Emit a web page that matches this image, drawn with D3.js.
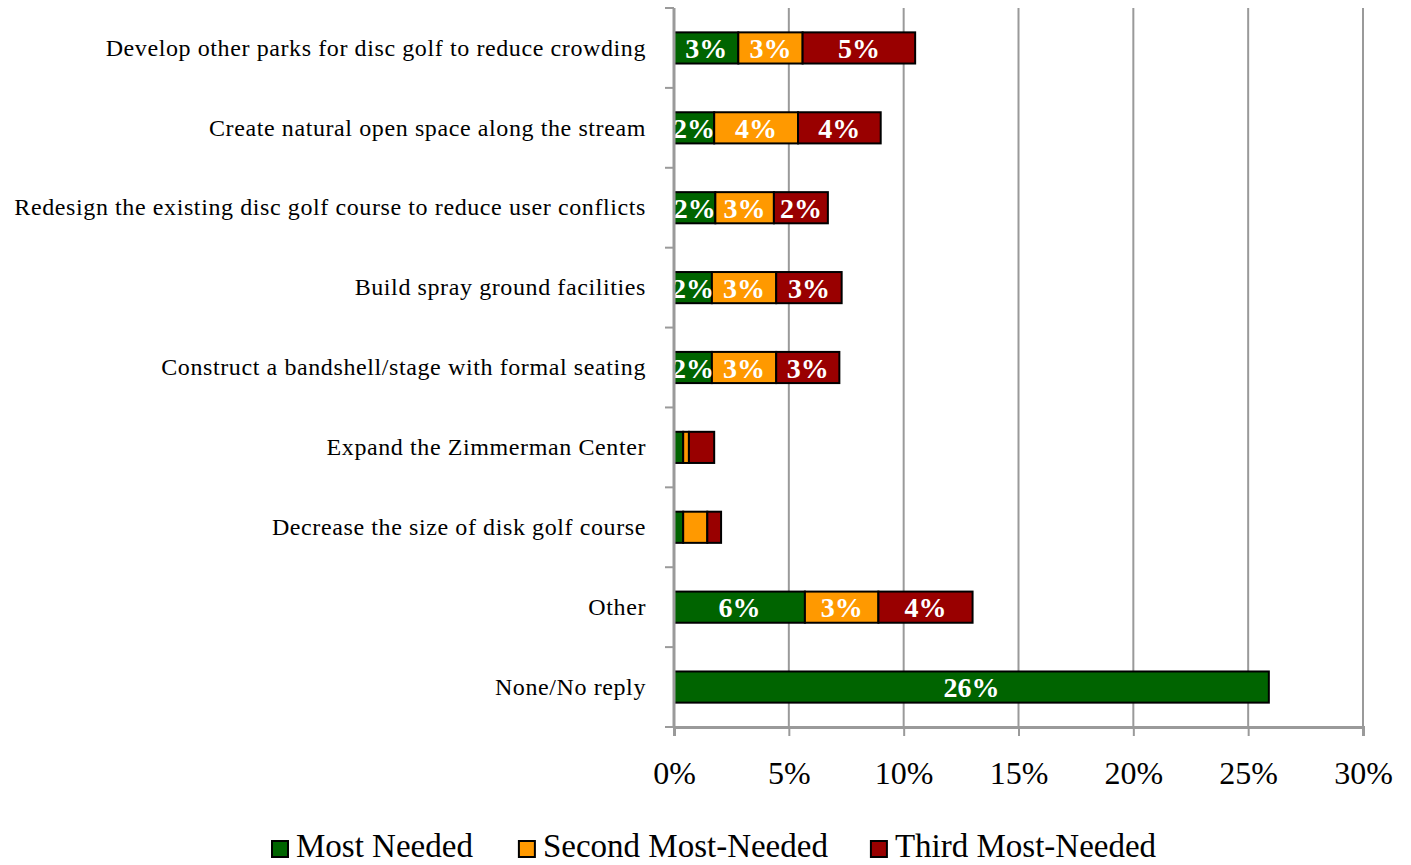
<!DOCTYPE html>
<html>
<head>
<meta charset="utf-8">
<script src="https://cdn.jsdelivr.net/npm/d3@7"></script>
<style>
  body { margin: 0; background: #fff; }
  #chart { width: 1411px; height: 865px; }
  text { font-family: "Liberation Serif", "DejaVu Serif", serif; }
</style>
</head>
<body>
<div id="chart"></div>
<script>
var categories = [
    "Develop other parks for disc golf to reduce crowding",
    "Create natural open space along the stream",
    "Redesign the existing disc golf course to reduce user conflicts",
    "Build spray ground facilities",
    "Construct a bandshell/stage with formal seating",
    "Expand the Zimmerman Center",
    "Decrease the size of disk golf course",
    "Other",
    "None/No reply"
];
var seriesNames = ["Most Needed", "Second Most-Needed", "Third Most-Needed"];
var mostNeeded   = [2.8, 1.75, 1.8, 1.65, 1.65, 0.4, 0.4, 5.7, 25.9];
var secondNeeded = [2.8, 3.65, 2.55, 2.8, 2.8, 0.25, 1.05, 3.2, 0];
var thirdNeeded  = [4.9, 3.6, 2.35, 2.85, 2.75, 1.1, 0.6, 4.1, 0];
var xTicks = [0, 5, 10, 15, 20, 25, 30];
var colours = ["#006400", "#FF9900", "#990000"];

var width = 1411, height = 865;
var margin = { top: 8, bottom: 138, left: 674, right: 48 };

var svg = d3.select('#chart')
    .append('svg')
    .attr('width', width)
    .attr('height', height);

var w = width - margin.left - margin.right;
var h = height - margin.top - margin.bottom;

var g = svg.append('g')
    .attr('transform', 'translate(' + margin.left + ',' + margin.top + ')');

var x_scale = d3.scaleLinear().domain([0, 30]).range([0, w]);
var y_scale = d3.scaleBand().domain(categories).range([0, h]).paddingInner(0.61).paddingOuter(0.305);

// gridlines
g.selectAll('.grid')
    .data(xTicks.slice(1))
    .enter()
    .append('line')
    .attr('x1', function (d) { return x_scale(d); })
    .attr('x2', function (d) { return x_scale(d); })
    .attr('y1', 0)
    .attr('y2', h)
    .attr('stroke', '#9a9a9a')
    .attr('stroke-width', 2);

// stacked data
var rows = categories.map(function (c, i) {
    return { cat: c, v: [mostNeeded[i], secondNeeded[i], thirdNeeded[i]] };
});
var segs = [];
rows.forEach(function (r) {
    var x0 = 0;
    r.v.forEach(function (v, k) {
        if (v > 0) segs.push({ cat: r.cat, k: k, x0: x0, x1: x0 + v, v: v });
        x0 += v;
    });
});

g.selectAll('.bar')
    .data(segs)
    .enter()
    .append('rect')
    .attr('class', 'bar')
    .attr('x', function (d) { return x_scale(d.x0); })
    .attr('width', function (d) { return x_scale(d.x1) - x_scale(d.x0); })
    .attr('y', function (d) { return y_scale(d.cat); })
    .attr('height', y_scale.bandwidth())
    .attr('fill', function (d) { return colours[d.k]; })
    .attr('stroke', '#000')
    .attr('stroke-width', 2);

var fmt = d3.format('.0%');
g.selectAll('.blabel')
    .data(segs.filter(function (d) { return d.v >= 1.5; }))
    .enter()
    .append('text')
    .attr('x', function (d) { return x_scale((d.x0 + d.x1) / 2); })
    .attr('y', function (d) { return y_scale(d.cat) + y_scale.bandwidth() / 2 + 10; })
    .attr('text-anchor', 'middle')
    .attr('fill', '#fff')
    .attr('font-weight', 'bold')
    .attr('font-size', '28px')
    .text(function (d) { return fmt(d.v / 100); });

// y axis
var y_axis = d3.axisLeft(y_scale).tickSize(0).tickPadding(28);
var yAxis = g.append('g').attr('class', 'y axis').call(y_axis);
yAxis.select('.domain').remove();
yAxis.selectAll('text')
    .attr('font-size', '24px')
    .attr('letter-spacing', '0.6px')
    .attr('fill', '#000');

var boundaries = d3.range(categories.length + 1).map(function (i) { return i * h / categories.length; });
g.selectAll('.ytick')
    .data(boundaries)
    .enter()
    .append('line')
    .attr('x1', -9).attr('x2', 0)
    .attr('y1', function (d) { return d; })
    .attr('y2', function (d) { return d; })
    .attr('stroke', '#9a9a9a')
    .attr('stroke-width', 2);
g.append('line')
    .attr('x1', 0).attr('x2', 0).attr('y1', 0).attr('y2', h)
    .attr('stroke', '#9a9a9a').attr('stroke-width', 3);

// x axis
var x_axis = d3.axisBottom(x_scale)
    .tickValues(xTicks)
    .tickSize(9)
    .tickPadding(25)
    .tickFormat(function (d) { return d + '%'; });
var xAxis = g.append('g')
    .attr('class', 'x axis')
    .attr('transform', 'translate(0,' + h + ')')
    .call(x_axis);
xAxis.select('.domain').attr('stroke', '#9a9a9a').attr('stroke-width', 3);
xAxis.selectAll('line').attr('stroke', '#9a9a9a').attr('stroke-width', 2);
xAxis.selectAll('text').attr('font-size', '32px').attr('fill', '#000');

// legend
var legend = svg.append('g').attr('transform', 'translate(0,847)');
var lx = 272;
var gaps = [46, 43, 0];
seriesNames.forEach(function (name, k) {
    var item = legend.append('g').attr('transform', 'translate(' + lx + ',0)');
    item.append('rect')
        .attr('x', 0).attr('y', -6)
        .attr('width', 16).attr('height', 16)
        .attr('fill', colours[k])
        .attr('stroke', '#000')
        .attr('stroke-width', 2);
    var t = item.append('text')
        .attr('x', 24).attr('y', 10)
        .attr('font-size', '33px')
        .text(name);
    lx += 24 + t.node().getComputedTextLength() + gaps[k];
});
</script>
</body>
</html>
